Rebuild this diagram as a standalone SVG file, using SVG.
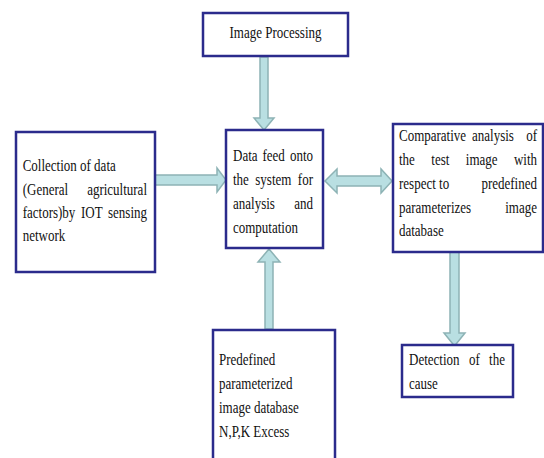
<svg xmlns="http://www.w3.org/2000/svg" width="544" height="458" viewBox="0 0 544 458">
<style>
.box{fill:#ffffff;stroke:#2b2b8c;stroke-width:2.5}
.arr{fill:#b9dfe2;stroke:#8db3b5;stroke-width:1.5;stroke-linejoin:miter}
text{font-family:'Liberation Serif','Times New Roman',serif;font-size:13px;fill:#111}
.e{text-anchor:end}
.m{text-anchor:middle}
</style>
<rect width="544" height="458" fill="#ffffff"/>
<g id="connectors">
<polygon class="arr" points="260,57 268,57 268,118 274,118 264,130 254,118 260,118"/>
<polygon class="arr" points="155,175 217,175 217,168 226,180 217,192 217,185 155,185"/>
<polygon class="arr" points="325,181 337,169 337,176 381,176 381,169 392,181 381,193 381,186 337,186 337,193"/>
<polygon class="arr" points="265,329 265,262 258,262 269,249 280,262 273,262 273,329"/>
<polygon class="arr" points="450,252 459,252 459,333 465,333 454.5,346 444,333 450,333"/>
</g>
<g id="image-processing">
<rect class="box" x="203" y="13" width="145" height="43"/>
<g transform="scale(1,1.25)"><text class="m" x="275.5" y="30.8">Image Processing</text></g>
</g>
<g id="collection">
<rect class="box" x="16" y="132" width="139" height="140"/>
<g transform="scale(1,1.25)">
<text x="22.7" y="136.8">Collection of data</text>
<text x="22.7" y="156">(General</text><text class="e" x="147" y="156">agricultural</text>
<text x="22.7" y="174.4">factors)by</text><text x="81" y="174.4">IOT</text><text class="e" x="147" y="174.4">sensing</text>
<text x="22.7" y="192.8">network</text>
</g>
</g>
<g id="data-feed">
<rect class="box" x="226" y="130" width="97" height="118"/>
<g transform="scale(1,1.25)">
<text x="233" y="128.8">Data</text><text x="262.5" y="128.8">feed</text><text class="e" x="313" y="128.8">onto</text>
<text x="233" y="148">the</text><text x="255.3" y="148">system</text><text class="e" x="313" y="148">for</text>
<text x="233" y="167.2">analysis</text><text class="e" x="313" y="167.2">and</text>
<text x="233" y="186.4">computation</text>
</g>
</g>
<g id="comparative">
<rect class="box" x="393" y="124" width="150" height="128"/>
<g transform="scale(1,1.25)">
<text x="399" y="112.8">Comparative</text><text x="472" y="112.8">analysis</text><text class="e" x="537" y="112.8">of</text>
<text x="399" y="132">the</text><text x="431.3" y="132">test</text><text x="465.8" y="132">image</text><text class="e" x="537" y="132">with</text>
<text x="399" y="151.2">respect to</text><text class="e" x="537" y="151.2">predefined</text>
<text x="399" y="170.4">parameterizes</text><text class="e" x="537" y="170.4">image</text>
<text x="399" y="188.8">database</text>
</g>
</g>
<g id="predefined">
<rect class="box" x="213" y="330" width="122" height="140"/>
<g transform="scale(1,1.25)">
<text x="219" y="292">Predefined</text>
<text x="219" y="311.2">parameterized</text>
<text x="219" y="330.4">image database</text>
<text x="219" y="349.6">N,P,K Excess</text>
</g>
</g>
<g id="detection">
<rect class="box" x="402" y="345" width="111" height="52"/>
<g transform="scale(1,1.25)">
<text x="409" y="292">Detection</text><text x="468.9" y="292">of</text><text class="e" x="505" y="292">the</text>
<text x="409" y="311.2">cause</text>
</g>
</g>
</svg>
